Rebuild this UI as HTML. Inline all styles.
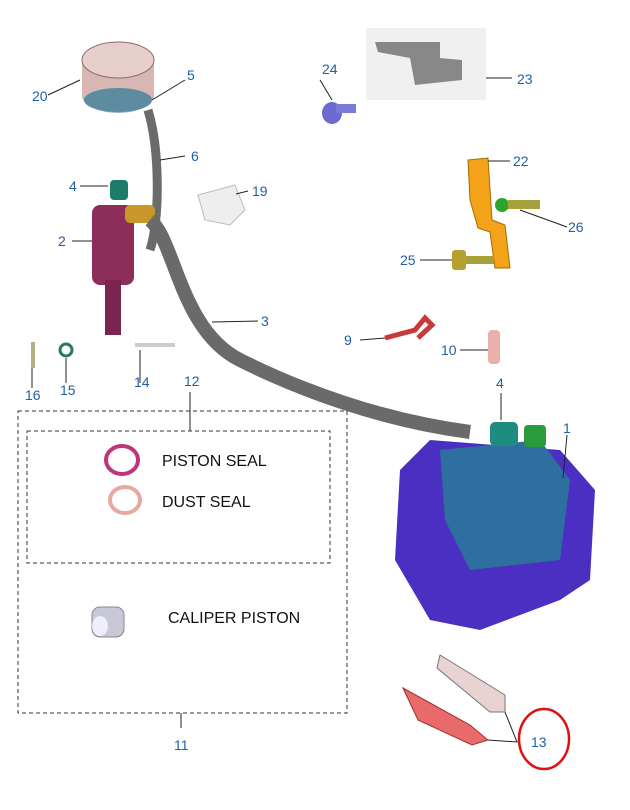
<!DOCTYPE html>
<html><head><meta charset="utf-8"><style>
html,body{margin:0;padding:0;background:#fff;}
svg{display:block;}
.n{font-family:"Liberation Sans",sans-serif;font-size:14px;fill:#1f5fa6;}
.t{font-family:"Liberation Sans",sans-serif;font-size:16px;fill:#111;}
.l{stroke:#222;stroke-width:1;fill:none;}
</style></head><body>
<svg width="630" height="810" viewBox="0 0 630 810" xmlns="http://www.w3.org/2000/svg">
<rect width="630" height="810" fill="#fff"/>
<!-- reservoir -->
<ellipse cx="118" cy="95" rx="36" ry="18" fill="#8fb7c8"/>
<rect x="82" y="60" width="72" height="38" fill="#d8b7b2"/>
<ellipse cx="118" cy="60" rx="36" ry="18" fill="#e6cfcb" stroke="#8a6a66"/>
<ellipse cx="118" cy="100" rx="34" ry="12" fill="#5d8ca0"/>
<!-- hose 6 -->
<path d="M148 110 C160 150 160 220 150 250" stroke="#6b6b6b" stroke-width="9" fill="none"/>
<!-- master cylinder -->
<rect x="92" y="205" width="42" height="80" rx="8" fill="#8c2d5a"/>
<rect x="105" y="280" width="16" height="55" fill="#7a2450"/>
<rect x="110" y="180" width="18" height="20" rx="4" fill="#1c7c6c"/>
<rect x="125" y="205" width="30" height="18" rx="5" fill="#c7972a"/>
<!-- hose 3 -->
<path d="M150 220 C175 240 180 330 240 360 C300 390 380 420 470 432" stroke="#6a6a6a" stroke-width="14" fill="none"/>
<!-- caliper -->
<path d="M400 470 L430 440 L560 450 L595 490 L590 580 L560 600 L480 630 L430 620 L395 560 Z" fill="#4a2fc2"/>
<path d="M440 450 L540 440 L570 480 L560 560 L470 570 L445 520 Z" fill="#2f6fa0"/>
<rect x="490" y="422" width="28" height="24" rx="5" fill="#1e8c80"/>
<rect x="524" y="425" width="22" height="22" rx="4" fill="#2a9a3a"/>
<!-- clip 19 -->
<path d="M198 195 L235 185 L245 210 L230 225 L205 220 Z" fill="#eee" stroke="#bbb"/>
<!-- bolt 24 -->
<ellipse cx="332" cy="113" rx="10" ry="11" fill="#6a6ad0"/>
<rect x="336" y="104" width="20" height="9" fill="#7a7ad8"/>
<!-- bracket 23 (photo) -->
<rect x="366" y="28" width="120" height="72" fill="#f0f0f0"/>
<path d="M375 42 L440 42 L440 58 L462 60 L462 80 L415 85 L410 58 L378 52 Z" fill="#888"/>
<!-- bracket 22 -->
<path d="M468 160 L488 158 L492 220 L505 225 L510 268 L495 268 L490 232 L478 228 L470 200 Z" fill="#f3a21a" stroke="#a86a00"/>
<circle cx="502" cy="205" r="7" fill="#2ca52c"/>
<rect x="508" y="200" width="32" height="9" fill="#a8a03a"/>
<rect x="452" y="250" width="14" height="20" rx="3" fill="#b8a030"/>
<rect x="466" y="256" width="28" height="8" fill="#a8a03a"/>
<!-- 9,10 -->
<path d="M385 338 L415 330 L425 318 L432 325 L418 338" stroke="#c83a3a" stroke-width="5" fill="none"/>
<rect x="488" y="330" width="12" height="34" rx="4" fill="#e8b0a8"/>
<!-- 16,15,14 -->
<rect x="31" y="342" width="4" height="26" fill="#b8b080"/>
<circle cx="66" cy="350" r="6" fill="none" stroke="#2a7a5a" stroke-width="3"/>
<rect x="135" y="343" width="40" height="4" fill="#ccc"/>
<!-- pads 13 -->
<path d="M440 655 L505 695 L505 712 L490 712 L437 668 Z" fill="#e8d2d2" stroke="#777"/>
<path d="M403 688 L470 725 L488 740 L472 745 L418 720 Z" fill="#e86a6a" stroke="#a03030"/>
<ellipse cx="544" cy="739" rx="25" ry="30" fill="none" stroke="#e01010" stroke-width="2.5"/>
<!-- dashed boxes -->
<rect x="18" y="411" width="329" height="302" fill="none" stroke="#333" stroke-dasharray="4,3"/>
<rect x="27" y="431" width="303" height="132" fill="none" stroke="#333" stroke-dasharray="4,3"/>
<ellipse cx="122" cy="460" rx="16" ry="14" fill="none" stroke="#c0357a" stroke-width="4"/>
<ellipse cx="125" cy="500" rx="15" ry="13" fill="none" stroke="#e8a8a0" stroke-width="4"/>
<rect x="92" y="607" width="32" height="30" rx="8" fill="#c8c8d8" stroke="#888"/>
<ellipse cx="100" cy="626" rx="8" ry="10" fill="#eef"/>
<text class="t" x="162" y="466">PISTON SEAL</text>
<text class="t" x="162" y="507">DUST SEAL</text>
<text class="t" x="168" y="623">CALIPER PISTON</text>
<!-- leader lines -->
<path class="l" d="M48 95 L80 80 M185 80 L152 100 M185 156 L160 160 M80 186 L108 186 M72 241 L92 241 M248 191 L236 194 M320 80 L332 100 M512 78 L486 78 M510 161 L488 161 M567 227 L520 210 M420 260 L452 260 M258 321 L212 322 M360 340 L385 338 M460 350 L488 350 M501 393 L501 420 M567 435 L563 478 M32 388 L32 368 M66 383 L66 358 M140 383 L140 350 M190 392 L190 431 M181 713 L181 728 M505 712 L517 742 L488 740"/>
<!-- labels -->
<text class="n" x="32" y="101">20</text>
<text class="n" x="187" y="80">5</text>
<text class="n" x="191" y="161">6</text>
<text class="n" x="69" y="191">4</text>
<text class="n" x="58" y="246">2</text>
<text class="n" x="252" y="196">19</text>
<text class="n" x="322" y="74">24</text>
<text class="n" x="517" y="84">23</text>
<text class="n" x="513" y="166">22</text>
<text class="n" x="568" y="232">26</text>
<text class="n" x="400" y="265">25</text>
<text class="n" x="261" y="326">3</text>
<text class="n" x="344" y="345">9</text>
<text class="n" x="441" y="355">10</text>
<text class="n" x="496" y="388">4</text>
<text class="n" x="563" y="433">1</text>
<text class="n" x="25" y="400">16</text>
<text class="n" x="60" y="395">15</text>
<text class="n" x="134" y="387">14</text>
<text class="n" x="184" y="386">12</text>
<text class="n" x="174" y="750">11</text>
<text class="n" x="531" y="747">13</text>
</svg>
</body></html>
